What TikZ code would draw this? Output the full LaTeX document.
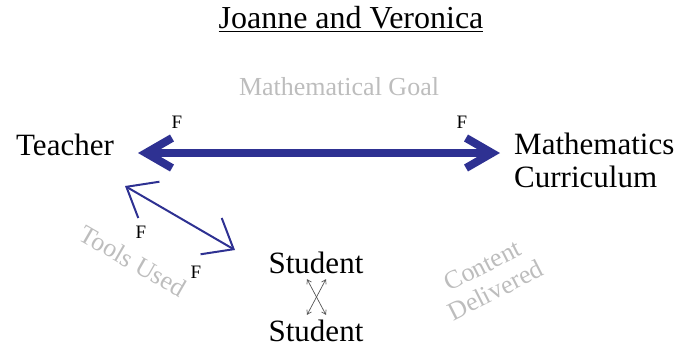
\documentclass[tikz,border=0pt]{standalone}
\usepackage{fontspec}
\setmainfont{Liberation Serif}
\usepackage{tikz}
\usetikzlibrary{arrows.meta}
\usepackage{xcolor}
\definecolor{LinkBlue}{HTML}{2E3192}
\definecolor{LabelGray}{HTML}{BDBDBD}
\definecolor{PeerGray}{HTML}{555555}

\begin{document}
\begin{tikzpicture}[x=1pt,y=-1pt,
    actor/.style={font=\fontsize{31}{33}\selectfont,inner sep=0pt},
    goal/.style={LabelGray,font=\fontsize{26}{28}\selectfont,inner sep=0pt},
    fmark/.style={font=\fontsize{19}{20}\selectfont,inner sep=0pt}]
  \useasboundingbox (0,0) rectangle (680,349);
  \node[font=\fontsize{32}{34}\selectfont,inner sep=0pt] (title) at (351,19)
    {\underline{Joanne and Veronica}};
  \node[actor] (teacher) at (65,145) {Teacher};
  \node[actor,anchor=west,align=left] (curric) at (514,160)
    {Mathematics\\Curriculum};
  \node[actor] (stud1) at (316,263) {Student};
  \node[actor] (stud2) at (316,331) {Student};
  \node[goal] (goal) at (339,87) {Mathematical Goal};
  \node[goal,rotate=-30] (tools) at (133,261) {Tools Used};
  \node[goal,rotate=27,align=center] (content) at (489,278)
    {Content\\Delivered};
  % big two-way arrow
  \coordinate (bigL) at (138,153);
  \coordinate (bigR) at (500,153);
  \draw[LinkBlue,line width=8pt,
    {Straight Barb[length=26pt,width=30pt]}-{Straight Barb[length=26pt,width=30pt]}]
    (bigL) -- (bigR);
  % thin two-way arrow
  \coordinate (thinA) at (125,186);
  \coordinate (thinB) at (235,250);
  \draw[LinkBlue,line width=2pt,
    {Straight Barb[length=26pt,width=42pt]}-{Straight Barb[length=26pt,width=42pt]}]
    (thinA) -- (thinB);
  % student to student
  \draw[PeerGray,line width=0.7pt,{Straight Barb[length=4pt,width=5pt]}-{Straight Barb[length=4pt,width=5pt]}]
    ([xshift=-9pt,yshift=-5pt]stud1.south) -- ([xshift=10pt,yshift=5pt]stud2.north);
  \draw[PeerGray,line width=0.7pt,{Straight Barb[length=4pt,width=5pt]}-{Straight Barb[length=4pt,width=5pt]}]
    ([xshift=10pt,yshift=-5pt]stud1.south) -- ([xshift=-9pt,yshift=5pt]stud2.north);
  \node[fmark] (f1) at (177,122) {F};
  \node[fmark] (f2) at (462,122) {F};
  \node[fmark] (f3) at (141,232) {F};
  \node[fmark] (f4) at (196,272) {F};
\end{tikzpicture}
\end{document}
